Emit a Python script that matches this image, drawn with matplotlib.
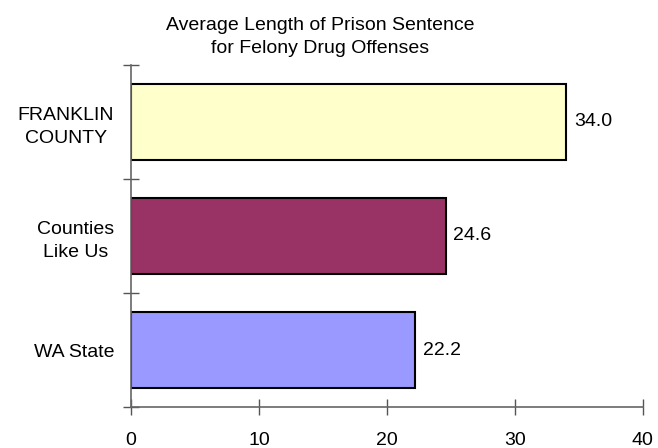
import matplotlib
matplotlib.use("Agg")
import matplotlib.pyplot as plt
from matplotlib.ticker import FixedLocator, NullFormatter

plt.rcParams['font.family'] = ['Liberation Sans', 'DejaVu Sans']

categories = ["WA State", "Counties\nLike Us", "FRANKLIN\nCOUNTY"]
values = [22.2, 24.6, 34.0]
colors = ["#9999FF", "#993366", "#FFFFCC"]
x_ticks = [0, 10, 20, 30, 40]

FS = 14

fig = plt.figure(figsize=(6.58, 4.48), dpi=100)
ax = fig.add_axes([0.199, 0.0915, 0.778, 0.7635])

pos = list(range(len(categories)))
ax.barh(pos, values, height=0.67, color=colors, edgecolor="black", linewidth=1.5)
for p, v in zip(pos, values):
    ax.text(v + 0.6, p, f"{v:.1f}", va="center", ha="left", fontsize=FS)

ax.set_xlim(0, 40)
ax.set_ylim(-0.5, 2.5)
ax.set_xticks(x_ticks)
ax.set_xticklabels([str(t) for t in x_ticks])

# category labels at bar centers, boundary ticks between them
ax.set_yticks(pos)
ax.set_yticklabels(categories, multialignment="center", linespacing=1.5)
ax.yaxis.set_minor_locator(FixedLocator([-0.5, 0.5, 1.5, 2.5]))
ax.yaxis.set_minor_formatter(NullFormatter())
ax.tick_params(axis="y", which="major", length=0, pad=12, labelsize=FS)
ax.tick_params(axis="y", which="minor", length=12, direction="inout", width=1, color="#555555")
ax.tick_params(axis="x", length=12, direction="inout", width=1, color="#555555", pad=12, labelsize=FS)

for s in ["top", "right"]:
    ax.spines[s].set_visible(False)
for s in ["left", "bottom"]:
    ax.spines[s].set_color("#666666")
    ax.spines[s].set_linewidth(1.2)

fig.text(0.486, 0.872, "Average Length of Prison Sentence\nfor Felony Drug Offenses",
         ha="center", va="bottom", fontsize=FS, linespacing=1.5)

fig.savefig("out.png", dpi=100)
